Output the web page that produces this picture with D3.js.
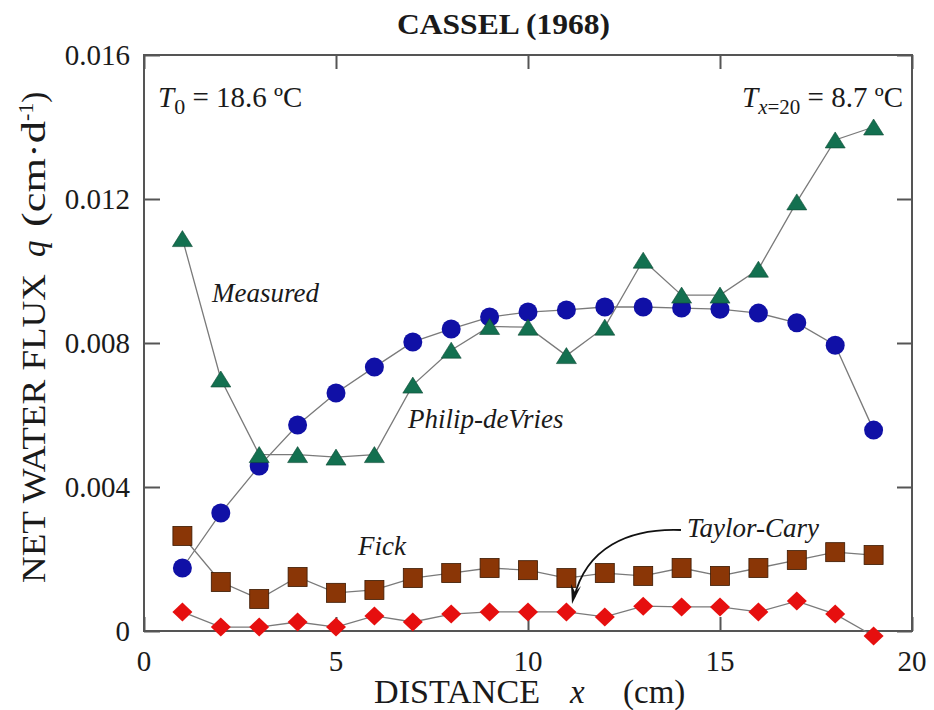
<!DOCTYPE html>
<html>
<head>
<meta charset="utf-8">
<script src="https://cdn.jsdelivr.net/npm/d3@7"></script>
<style>
  body { margin: 0; background: #fff; }
  text { font-family: "Liberation Serif", "DejaVu Serif", serif; fill: #1a1a1a; }
</style>
</head>
<body>
<div id="plot-container"></div>
<script>
const distance = [1, 2, 3, 4, 5, 6, 7, 8, 9, 10, 11, 12, 13, 14, 15, 16, 17, 18, 19];
const measured = [0.0109, 0.0070, 0.0049, 0.0049, 0.00483, 0.0049, 0.00683, 0.0078, 0.00846, 0.00844,
                  0.00765, 0.00844, 0.0103, 0.00933, 0.00933, 0.01005, 0.01192, 0.01364, 0.0140];
const philipDeVries = [0.00175, 0.00328, 0.00458, 0.00572, 0.00661, 0.00733, 0.00803, 0.00839, 0.00872, 0.00886,
                       0.00892, 0.0090, 0.0090, 0.00897, 0.00894, 0.00883, 0.00856, 0.00794, 0.00558];
const fick = [0.00264, 0.00136, 0.00089, 0.0015, 0.00106, 0.00114, 0.00147, 0.00161, 0.00175, 0.00169,
              0.00147, 0.00161, 0.00153, 0.00175, 0.00153, 0.00175, 0.00197, 0.00219, 0.00211];
const taylorCary = [0.00053, 0.00011, 0.00011, 0.00025, 0.00011, 0.00042, 0.00025, 0.00047, 0.00053, 0.00053,
                    0.00053, 0.00039, 0.00069, 0.00067, 0.00067, 0.00053, 0.00083, 0.00047, -0.00014];
const xTicks = [0, 5, 10, 15, 20];
const yTicks = [0, 0.004, 0.008, 0.012, 0.016];

const margin = { top: 55, right: 22, bottom: 79, left: 144 };
const width = 934 - margin.left - margin.right;
const height = 710 - margin.top - margin.bottom;

const svg = d3.select("#plot-container")
    .append("svg")
    .attr("width", 934)
    .attr("height", 710);

const g = svg.append("g")
    .attr("transform", `translate(${margin.left},${margin.top})`);

const x = d3.scaleLinear().domain([0, 20]).range([0, width]);
const y = d3.scaleLinear().domain([0, 0.016]).range([height, 0]);

// frame + inward ticks on all four sides
const frameColor = "#555";
g.append("g").attr("transform", `translate(0,${height})`)
    .call(d3.axisBottom(x).tickValues(xTicks).tickSize(-14).tickFormat(""));
g.append("g")
    .call(d3.axisTop(x).tickValues(xTicks).tickSize(-14).tickFormat(""));
g.append("g")
    .call(d3.axisLeft(y).tickValues(yTicks).tickSize(-16).tickFormat(""));
g.append("g").attr("transform", `translate(${width},0)`)
    .call(d3.axisRight(y).tickValues(yTicks).tickSize(-15).tickFormat(""));
g.selectAll(".domain").remove();
g.selectAll(".tick line").attr("stroke", frameColor).attr("stroke-width", 2);
g.append("rect")
    .attr("width", width).attr("height", height)
    .attr("fill", "none").attr("stroke", frameColor).attr("stroke-width", 2);

// tick labels
g.selectAll(".xlab").data(xTicks).enter().append("text")
    .attr("x", d => x(d)).attr("y", height + 40)
    .attr("text-anchor", "middle").style("font-size", "29px")
    .text(d => d);
g.selectAll(".ylab").data(yTicks).enter().append("text")
    .attr("x", -14).attr("y", d => y(d) + 10)
    .attr("text-anchor", "end").style("font-size", "29px")
    .text(d => d === 0 ? "0" : d3.format(".3f")(d));

// series
const series = [
    { name: "taylor", values: taylorCary },
    { name: "fick", values: fick },
    { name: "pdv", values: philipDeVries },
    { name: "measured", values: measured }
];
const line = d3.line().x(d => x(d[0])).y(d => y(d[1]));
series.forEach(s => {
    g.append("path")
        .datum(distance.map((d, i) => [d, s.values[i]]))
        .attr("fill", "none").attr("stroke", "#7a7a7a").attr("stroke-width", 1.3)
        .attr("d", line);
});

const pts = vals => distance.map((d, i) => [d, vals[i]]);

g.selectAll(".diamond").data(pts(taylorCary)).enter().append("path")
    .attr("transform", d => `translate(${x(d[0])},${y(d[1])})`)
    .attr("d", "M0,-9.5L10,0L0,9.5L-10,0Z")
    .attr("fill", "#e60f0f");

g.selectAll(".square").data(pts(fick)).enter().append("rect")
    .attr("x", d => x(d[0]) - 9.5).attr("y", d => y(d[1]) - 9.5)
    .attr("width", 19).attr("height", 19)
    .attr("fill", "#8a3606").attr("stroke", "#3a1800").attr("stroke-width", 0.8);

g.selectAll(".circle").data(pts(philipDeVries)).enter().append("circle")
    .attr("cx", d => x(d[0])).attr("cy", d => y(d[1])).attr("r", 9.5)
    .attr("fill", "#1010a6");

g.selectAll(".tri").data(pts(measured)).enter().append("path")
    .attr("transform", d => `translate(${x(d[0])},${y(d[1])})`)
    .attr("d", "M0,-8L10,8L-10,8Z")
    .attr("fill", "#137050").attr("stroke", "#0d4a34").attr("stroke-width", 0.6);

// title
svg.append("text")
    .attr("x", 397).attr("y", 34)
    .attr("textLength", 213).attr("lengthAdjust", "spacingAndGlyphs")
    .style("font-size", "30px").style("font-weight", "bold")
    .text("CASSEL (1968)");

// temperature notes
const t0 = svg.append("text").attr("x", 158).attr("y", 107).style("font-size", "29px");
t0.append("tspan").style("font-style", "italic").text("T");
t0.append("tspan").attr("dy", 7).style("font-size", "22px").text("0");
t0.append("tspan").attr("dy", -7).text(" = 18.6 ºC");

const t20 = svg.append("text").attr("x", 903).attr("y", 107)
    .attr("text-anchor", "end").style("font-size", "29px");
t20.append("tspan").style("font-style", "italic").text("T");
t20.append("tspan").attr("dy", 7).style("font-size", "21px").style("font-style", "italic").text("x");
t20.append("tspan").style("font-size", "21px").text("=20");
t20.append("tspan").attr("dy", -7).text(" = 8.7 ºC");

// series labels
const labels = [
    { text: "Measured", x: 212, y: 302 },
    { text: "Philip-deVries", x: 408, y: 428 },
    { text: "Fick", x: 358, y: 555 },
    { text: "Taylor-Cary", x: 687, y: 537 }
];
svg.selectAll(".serieslab").data(labels).enter().append("text")
    .attr("x", d => d.x).attr("y", d => d.y)
    .style("font-size", "27px").style("font-style", "italic")
    .text(d => d.text);

// curved arrow for Taylor-Cary
svg.append("path")
    .attr("d", "M681,530 C628,528 586,548 574,598")
    .attr("fill", "none").attr("stroke", "#111").attr("stroke-width", 1.8);
svg.append("path")
    .attr("d", "M572,604 L571,584 L575,592 L581,586 Z")
    .attr("fill", "#111");

// axis titles
const xt = svg.append("text").attr("x", 374).attr("y", 703).style("font-size", "33px");
xt.append("tspan").attr("textLength", 166).attr("lengthAdjust", "spacingAndGlyphs").text("DISTANCE");
xt.append("tspan").attr("x", 570).style("font-style", "italic").text("x");
xt.append("tspan").attr("x", 623).text("(cm)");

const yt = svg.append("text")
    .attr("transform", "translate(45,583) rotate(-90)")
    .style("font-size", "33px");
yt.append("tspan").attr("x", 0).attr("textLength", 309).attr("lengthAdjust", "spacingAndGlyphs")
    .text("NET WATER FLUX");
yt.append("tspan").attr("x", 326).style("font-style", "italic").text("q");
yt.append("tspan").attr("x", 356).attr("textLength", 106).attr("lengthAdjust", "spacingAndGlyphs").text("(cm·d");
yt.append("tspan").attr("dy", -12).style("font-size", "22px").text("-1");
yt.append("tspan").attr("dy", 12).text(")");
</script>
</body>
</html>
